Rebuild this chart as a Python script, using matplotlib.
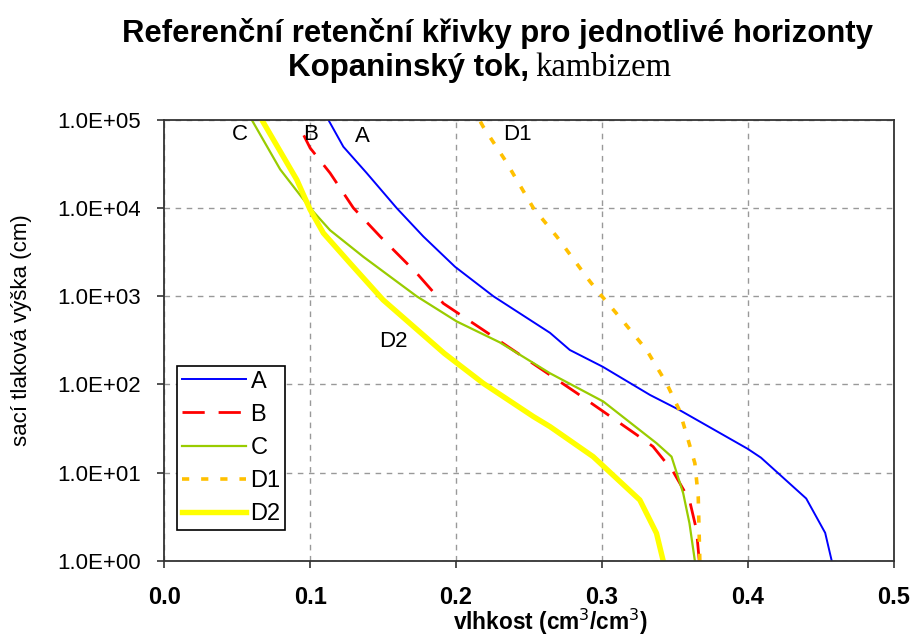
import matplotlib
matplotlib.use('Agg')
import matplotlib.pyplot as plt

plt.rcParams['font.family'] = ['Liberation Sans', 'DejaVu Sans']

# retention curves: water content (cm3/cm3) vs suction head (cm)
a_theta = [0.4575, 0.453, 0.440, 0.409, 0.400, 0.353, 0.333, 0.3005, 0.278, 0.2644, 0.2256, 0.1993, 0.1776, 0.1594, 0.1388, 0.1228, 0.1125]
a_head = [1, 2.08, 5.1, 14.8, 18.6, 51.5, 76, 159, 246, 385, 1000, 2160, 4760, 9960, 24900, 49500, 100000]

b_theta = [0.3667, 0.3648, 0.360, 0.3488, 0.335, 0.3238, 0.301, 0.2827, 0.239, 0.2187, 0.1913, 0.173, 0.148, 0.1297, 0.1137, 0.100, 0.0943]
b_head = [1, 2.25, 4.9, 10.3, 19.8, 26.9, 49.3, 80, 246, 414, 830, 1830, 4760, 10000, 24900, 48000, 74000]

c_theta = [0.3637, 0.360, 0.3557, 0.3477, 0.3374, 0.301, 0.2644, 0.230, 0.2005, 0.173, 0.1365, 0.1137, 0.100, 0.0795, 0.060]
c_head = [1, 2.67, 5.85, 15.2, 21.6, 64, 134, 300, 518, 1000, 2800, 5600, 10000, 27400, 100000]

d1_theta = [0.3671, 0.366, 0.3637, 0.3591, 0.353, 0.3443, 0.3306, 0.3146, 0.300, 0.2918, 0.269, 0.253, 0.2336, 0.2187, 0.216]
d1_head = [1, 5.35, 12.8, 23.5, 51.5, 103, 246, 518, 1000, 1470, 4760, 10000, 35000, 83000, 100000]

d2_theta = [0.342, 0.3374, 0.326, 0.294, 0.2644, 0.253, 0.2187, 0.192, 0.150, 0.1274, 0.1091, 0.100, 0.0909, 0.0669]
d2_head = [1, 2.06, 4.9, 15.2, 33.3, 43.3, 103, 225, 910, 2370, 5200, 9600, 20900, 100000]

x_ticks = [0.0, 0.1, 0.2, 0.3, 0.4, 0.5]
y_ticks = [1, 10, 100, 1000, 10000, 100000]
y_ticklabels = ['1.0E+00', '1.0E+01', '1.0E+02', '1.0E+03', '1.0E+04', '1.0E+05']

fig = plt.figure(figsize=(9.12, 6.44), dpi=100)
ax = fig.add_axes([0.180, 0.129, 0.800, 0.685])

ax.plot(a_theta, a_head, color='#0000FF', lw=1.4, label='A')
ax.plot(b_theta, b_head, color='#FF0000', lw=2.0, dashes=(8, 5), label='B')
ax.plot(c_theta, c_head, color='#99CC00', lw=1.6, label='C')
ax.plot(d1_theta, d1_head, color='#FFC000', lw=2.6, dashes=(2, 3.3), label='D1')
ax.plot(d2_theta, d2_head, color='#FFFF00', lw=3.9, label='D2')

ax.set_yscale('log')
ax.set_xlim(0, 0.5)
ax.set_ylim(1, 1e5)
ax.set_xticks(x_ticks)
ax.set_xticklabels([f'{v:.1f}' for v in x_ticks], fontsize=17, fontweight='bold')
ax.set_yticks(y_ticks)
ax.set_yticklabels(y_ticklabels, fontsize=16)
ax.minorticks_off()
ax.tick_params(axis='both', direction='out', length=5, width=1.2, color='#333333')
ax.tick_params(axis='x', pad=13)
ax.tick_params(axis='y', pad=12)
ax.grid(True, color='#999999', linestyle=(0, (4, 4)), lw=1.0)
for sp in ax.spines.values():
    sp.set_color('#333333')
    sp.set_linewidth(1.3)

ax.set_xlabel('vlhkost (cm$^3$/cm$^3$)', fontsize=16.3, fontweight='bold', va='center')
ax.xaxis.set_label_coords(0.529, -0.138)
fig.text(22 / 912, 1 - 330 / 644, 'sací tlaková výška (cm)', fontsize=16, rotation=90,
         ha='center', va='center')

# curve labels inside the plot
for txt, x, y in [('C', 0.052, 67600), ('B', 0.100, 67600), ('A', 0.136, 65000),
                  ('D1', 0.242, 67600), ('D2', 0.157, 304)]:
    ax.text(x, y, txt, fontsize=16, ha='center', va='center')

leg = ax.legend(loc='upper left', bbox_to_anchor=(0.018, 0.442), borderaxespad=0,
                fontsize=17, handlelength=2.7, labelspacing=0.47, fancybox=False,
                framealpha=1, edgecolor='black', borderpad=0.2, handletextpad=0.2)
leg.get_frame().set_linewidth(1.2)

fig.text(0.545, 0.948, 'Referenční retenční křivky pro jednotlivé horizonty',
         fontsize=22.4, fontweight='bold', ha='center', va='center')
fig.text(0.580, 0.895, 'Kopaninský tok,', fontsize=22.5, fontweight='bold', ha='right', va='center')
fig.text(0.587, 0.895, 'kambizem', fontsize=23.5, family=['Liberation Serif', 'DejaVu Serif'],
         ha='left', va='center')

fig.savefig('out.png', dpi=100)
